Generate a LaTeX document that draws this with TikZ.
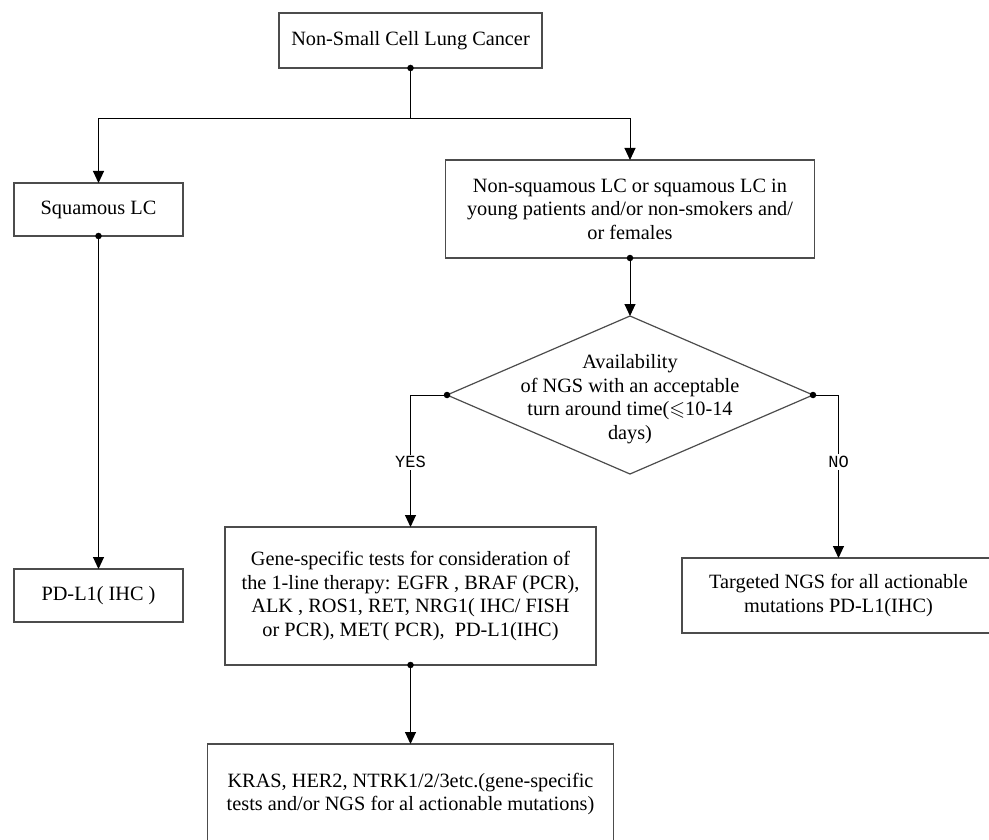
\documentclass[tikz,border=0pt]{standalone}
\usepackage{amssymb}
\usepackage{fontspec}
\setmainfont{Liberation Serif}
\newfontfamily\ynfont{Liberation Mono}
\usetikzlibrary{arrows.meta,shapes.geometric}

\begin{document}
\begin{tikzpicture}[x=1pt, y=-1pt,
    box/.style={draw=black!70, line width=1.2pt, rectangle, inner sep=0pt, outer sep=0pt, align=center,
        font=\fontsize{20.3}{23.5}\selectfont},
    decision/.style={draw=black!70, line width=1.2pt, diamond, inner sep=0pt, outer sep=0pt},
    flow/.style={line width=1pt, -{Triangle[width=11pt,length=12pt]}},
    yesno/.style={fill=white, inner sep=2pt, font=\ynfont\fontsize{17}{19}\selectfont},
    joint/.style={circle, fill=black, inner sep=0pt, minimum size=6.5pt}
]
\useasboundingbox (0,0) rectangle (989,840);
\fill[white] (0,0) rectangle (989,840);

\node[box, minimum width=263pt, minimum height=55pt] (nsclc) at (410.5,40.5) {Non-Small Cell Lung Cancer};
\node[box, minimum width=169pt, minimum height=53pt] (squam) at (98.5,209.5) {Squamous LC};
\node[box, minimum width=169pt, minimum height=53pt] (pdl) at (98.5,595.5) {PD-L1( IHC )};
\node[box, minimum width=369pt, minimum height=98pt] (nonsq) at (630,209) {Non-squamous LC or squamous LC in\\young patients and/or non-smokers and/\\or females};
\node[decision, minimum width=366pt, minimum height=158pt] (avail) at (630,395) {};
\node[box, draw=none] (availtxt) at (630,399) {Availability\\of NGS with an acceptable\\turn around time($\leqslant$10-14\\days)};
\node[box, minimum width=371pt, minimum height=138pt] (gene) at (410.5,596) {Gene-specific tests for consideration of\\the 1-line therapy: EGFR , BRAF (PCR),\\ALK , ROS1, RET, NRG1( IHC/ FISH\\or PCR), MET( PCR),~ PD-L1(IHC)};
\node[box, minimum width=313pt, minimum height=75pt] (target) at (838.5,595.5) {Targeted NGS for all actionable\\mutations PD-L1(IHC)};
\node[box, minimum width=406pt, minimum height=100pt] (kras) at (410.5,794) {KRAS, HER2, NTRK1/2/3etc.(gene-specific\\tests and/or NGS for al actionable mutations)};

\coordinate (split) at (410.5,119);
\draw[line width=1pt] (nsclc.south) -- (split);
\draw[flow] (split) -| (squam.north);
\draw[flow] (split) -| (nonsq.north);
\draw[flow] (squam.south) -- (pdl.north);
\draw[flow] (nonsq.south) -- (avail.north);
\draw[flow] (avail.west) -| node[yesno, pos=0.755] {YES} (gene.north);
\draw[flow] (avail.east) -| node[yesno, pos=0.705] {NO} (target.north);
\draw[flow] (gene.south) -- (kras.north);

\node[joint] (d1) at (nsclc.south) {};
\node[joint] (d2) at (squam.south) {};
\node[joint] (d3) at (nonsq.south) {};
\node[joint] (d4) at (avail.west) {};
\node[joint] (d5) at (avail.east) {};
\node[joint] (d6) at (gene.south) {};
\end{tikzpicture}
\end{document}
